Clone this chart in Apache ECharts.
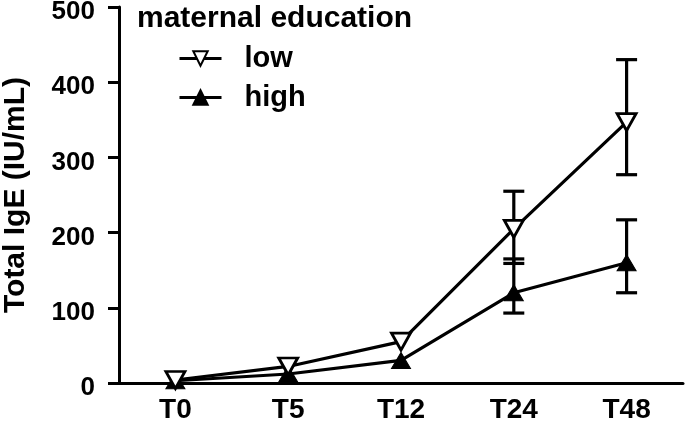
<!DOCTYPE html>
<html>
<head>
<meta charset="utf-8">
<script src="https://cdn.jsdelivr.net/npm/echarts@6/dist/echarts.min.js"></script>
<style>
html,body{margin:0;padding:0;background:#fff;}
#chart{width:685px;height:423px;}
</style>
</head>
<body>
<div id="chart"></div>
<script>
var categories = ['T0', 'T5', 'T12', 'T24', 'T48'];
var lowValues = [4, 22, 55, 205, 347];
var highValues = [3, 12, 30, 120, 160];
var lowErrLower = [null, null, null, 159, 277];
var lowErrUpper = [null, null, null, 255, 430];
var highErrLower = [null, null, null, 93, 120];
var highErrUpper = [null, null, null, 165, 217];
var yTicks = [0, 100, 200, 300, 400, 500];

var FONT = '"Liberation Sans", Arial, Helvetica, sans-serif';

function errData(lo, hi) {
  var out = [];
  for (var i = 0; i < categories.length; i++) {
    if (lo[i] != null && hi[i] != null) out.push([i, lo[i], hi[i]]);
  }
  return out;
}

function renderErr(params, api) {
  var x = api.value(0);
  var p1 = api.coord([x, api.value(1)]);
  var p2 = api.coord([x, api.value(2)]);
  var half = 10.5;
  var st = {stroke: '#000', lineWidth: 3.2};
  return {
    type: 'group',
    children: [
      {type: 'line', shape: {x1: p1[0], y1: p1[1], x2: p2[0], y2: p2[1]}, style: st},
      {type: 'line', shape: {x1: p1[0] - half, y1: p1[1], x2: p1[0] + half, y2: p1[1]}, style: st},
      {type: 'line', shape: {x1: p2[0] - half, y1: p2[1], x2: p2[0] + half, y2: p2[1]}, style: st}
    ]
  };
}

var chart = echarts.init(document.getElementById('chart'), null, {renderer: 'canvas'});
chart.setOption({
  animation: false,
  backgroundColor: '#fff',
  title: {
    text: 'maternal education',
    left: 132, top: -1,
    textStyle: {fontFamily: FONT, fontWeight: 'bold', fontSize: 30, color: '#000'}
  },
  legend: {
    orient: 'vertical',
    left: 173, top: 39,
    itemWidth: 42, itemHeight: 18,
    itemGap: 10,
    data: ['low', 'high'],
    lineStyle: {width: 3},
    textStyle: {fontFamily: FONT, fontWeight: 'bold', fontSize: 29, color: '#000', padding: [0, 0, 0, 18]}
  },
  grid: {left: 119, right: 2, top: 7, bottom: 40, containLabel: false, outerBoundsMode: 'none'},
  xAxis: {
    type: 'category',
    data: categories,
    boundaryGap: true,
    axisLine: {lineStyle: {color: '#000', width: 3}},
    axisTick: {alignWithLabel: true, length: 12, lineStyle: {color: '#000', width: 3}},
    axisLabel: {fontFamily: FONT, fontWeight: 'bold', fontSize: 28, color: '#000', margin: 13}
  },
  yAxis: {
    type: 'value',
    min: yTicks[0], max: yTicks[yTicks.length - 1], interval: 100,
    name: 'Total IgE (IU/mL)',
    nameLocation: 'middle',
    nameGap: 88,
    nameTextStyle: {fontFamily: FONT, fontWeight: 'bold', fontSize: 30, color: '#000'},
    axisLine: {show: true, lineStyle: {color: '#000', width: 3}},
    axisTick: {show: true, length: 11, lineStyle: {color: '#000', width: 3}},
    axisLabel: {fontFamily: FONT, fontWeight: 'bold', fontSize: 26, color: '#000', margin: 24, verticalAlign: 'top', lineHeight: 10},
    splitLine: {show: false}
  },
  series: [
    {
      type: 'custom', name: 'lowErr', renderItem: renderErr, data: errData(lowErrLower, lowErrUpper), z: 1, silent: true
    },
    {
      type: 'custom', name: 'highErr', renderItem: renderErr, data: errData(highErrLower, highErrUpper), z: 1, silent: true
    },
    {
      type: 'line', name: 'high', data: highValues, z: 3,
      symbol: 'triangle', symbolSize: [19, 16],
      lineStyle: {color: '#000', width: 3.2},
      itemStyle: {color: '#000', borderColor: '#000', borderWidth: 1}
    },
    {
      type: 'line', name: 'low', data: lowValues, z: 4,
      symbol: 'triangle', symbolRotate: 180, symbolSize: [19, 17],
      lineStyle: {color: '#000', width: 3.2},
      itemStyle: {color: '#fff', borderColor: '#000', borderWidth: 2.8}
    }
  ]
});
</script>
</body>
</html>
